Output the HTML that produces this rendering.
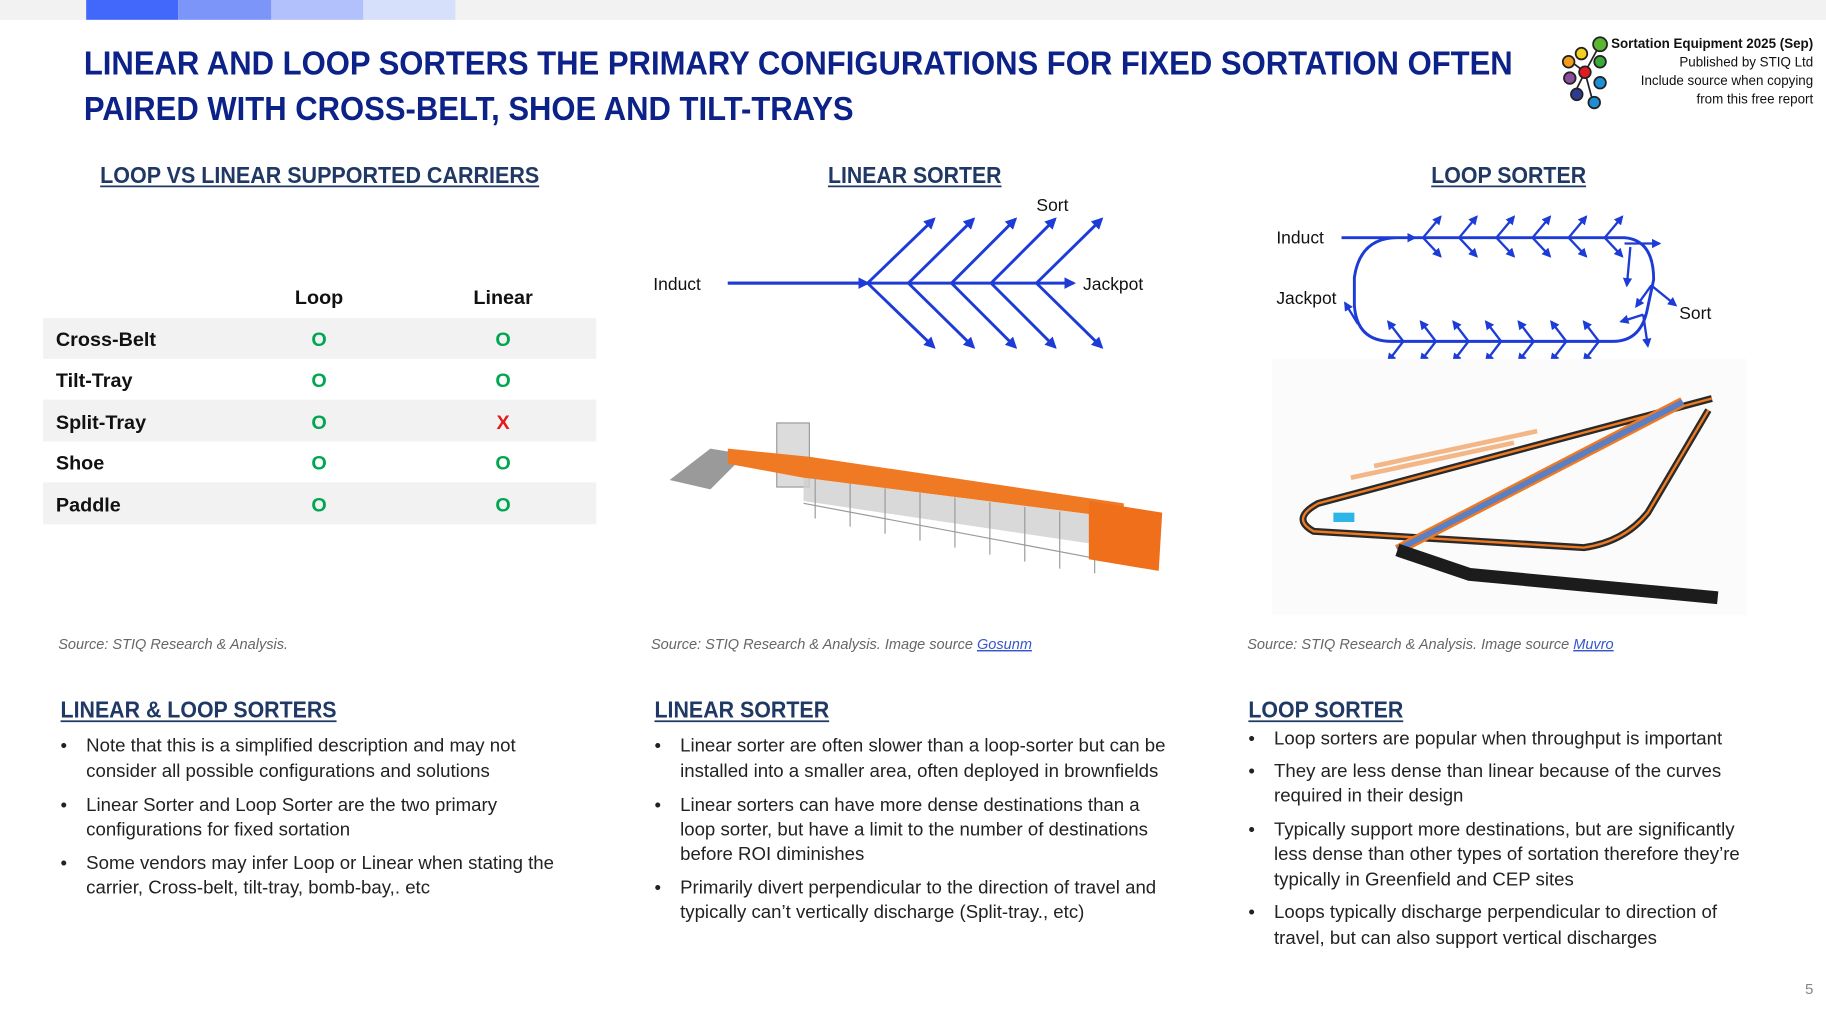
<!DOCTYPE html>
<html><head><meta charset="utf-8"><style>
html,body{margin:0;padding:0;background:#fff;}
svg{display:block;}
text{font-family:"Liberation Sans",sans-serif;}
</style></head><body>
<svg width="1826" height="1023" viewBox="0 0 1568 878" preserveAspectRatio="none" xmlns="http://www.w3.org/2000/svg">
<defs>
<marker id="a" viewBox="0 0 10 10" refX="8" refY="5" markerWidth="4" markerHeight="4" orient="auto"><path d="M0,0 L10,5 L0,10 z" fill="#1d3bd6"/></marker>
</defs>
<rect width="1568" height="878" fill="#fff"/>
<rect x="0" y="0" width="1568" height="17" fill="#f2f2f2"/>
<rect x="74" y="0" width="79" height="17" fill="#4267fb"/>
<rect x="153" y="0" width="80" height="17" fill="#7b95f8"/>
<rect x="233" y="0" width="79" height="17" fill="#b2c1fb"/>
<rect x="312" y="0" width="79" height="17" fill="#d6e0fa"/>

<g fill="#0c2288" font-weight="bold" font-size="29">
<text x="72" y="64" textLength="1227" lengthAdjust="spacingAndGlyphs">LINEAR AND LOOP SORTERS THE PRIMARY CONFIGURATIONS FOR FIXED SORTATION OFTEN</text>
<text x="72" y="103" textLength="661" lengthAdjust="spacingAndGlyphs">PAIRED WITH CROSS-BELT, SHOE AND TILT-TRAYS</text>
</g>

<g stroke="#222" stroke-width="1.5">
<line x1="1374" y1="38" x2="1361" y2="62"/><line x1="1361" y1="62" x2="1368" y2="88"/><line x1="1348" y1="52" x2="1361" y2="62"/><line x1="1361" y1="62" x2="1352" y2="80"/>
<circle cx="1374" cy="38" r="6" fill="#5cb531"/>
<circle cx="1358" cy="46" r="5" fill="#f2d21c"/>
<circle cx="1347" cy="53" r="5" fill="#f39b1b"/>
<circle cx="1374" cy="53" r="5" fill="#3aa83a"/>
<circle cx="1361" cy="62" r="5" fill="#e21b23"/>
<circle cx="1348" cy="67" r="5" fill="#8a4f9c"/>
<circle cx="1374" cy="71" r="5" fill="#1e8fd6"/>
<circle cx="1354" cy="81" r="5" fill="#2e3a8f"/>
<circle cx="1369" cy="88" r="5" fill="#1e8fd6"/>
</g>
<g font-size="11.5" fill="#111" text-anchor="end">
<text x="1557" y="41" font-weight="bold">Sortation Equipment 2025 (Sep)</text>
<text x="1557" y="57">Published by STIQ Ltd</text>
<text x="1557" y="73">Include source when copying</text>
<text x="1557" y="89">from this free report</text>
</g>

<g fill="#1f3864" font-weight="bold" font-size="20">
<text x="86" y="157" textLength="377" lengthAdjust="spacingAndGlyphs">LOOP VS LINEAR SUPPORTED CARRIERS</text>
<text x="711" y="157" textLength="149" lengthAdjust="spacingAndGlyphs">LINEAR SORTER</text>
<text x="1229" y="157" textLength="133" lengthAdjust="spacingAndGlyphs">LOOP SORTER</text>
<text x="52" y="616" textLength="237" lengthAdjust="spacingAndGlyphs">LINEAR &amp; LOOP SORTERS</text>
<text x="562" y="616" textLength="150" lengthAdjust="spacingAndGlyphs">LINEAR SORTER</text>
<text x="1072" y="616" textLength="133" lengthAdjust="spacingAndGlyphs">LOOP SORTER</text>
</g>
<g stroke="#1f3864" stroke-width="1.5">
<line x1="86" y1="160" x2="463" y2="160"/><line x1="711" y1="160" x2="860" y2="160"/><line x1="1229" y1="160" x2="1362" y2="160"/>
<line x1="52" y1="619" x2="289" y2="619"/><line x1="562" y1="619" x2="712" y2="619"/><line x1="1072" y1="619" x2="1205" y2="619"/>
</g>

<rect x="37" y="273" width="475" height="35" fill="#f2f2f2"/>
<rect x="37" y="343" width="475" height="36" fill="#f2f2f2"/>
<rect x="37" y="414" width="475" height="36" fill="#f2f2f2"/>
<g font-size="17" font-weight="bold" fill="#111">
<text x="274" y="261" text-anchor="middle">Loop</text>
<text x="432" y="261" text-anchor="middle">Linear</text>
<text x="48" y="297">Cross-Belt</text>
<text x="48" y="332">Tilt-Tray</text>
<text x="48" y="368">Split-Tray</text>
<text x="48" y="403">Shoe</text>
<text x="48" y="439">Paddle</text>
</g>
<g font-size="17" font-weight="bold" fill="#00a650" text-anchor="middle">
<text x="274" y="297">O</text><text x="432" y="297">O</text>
<text x="274" y="332">O</text><text x="432" y="332">O</text>
<text x="274" y="368">O</text><text x="432" y="368" fill="#e31b1b">X</text>
<text x="274" y="403">O</text><text x="432" y="403">O</text>
<text x="274" y="439">O</text><text x="432" y="439">O</text>
</g>

<g font-size="15" fill="#111">
<text x="561" y="249">Induct</text><text x="930" y="249">Jackpot</text><text x="890" y="181">Sort</text>
<text x="1096" y="209">Induct</text><text x="1096" y="261">Jackpot</text><text x="1442" y="274">Sort</text>
</g>
<g stroke="#1d3bd6" stroke-width="2.5" fill="none" marker-end="url(#a)">
<line x1="625" y1="243" x2="922" y2="243"/>
<line x1="625" y1="243" x2="745" y2="243"/>
<line x1="745" y1="243" x2="802" y2="188"/><line x1="745" y1="243" x2="802" y2="298"/>
<line x1="780" y1="243" x2="836" y2="188"/><line x1="780" y1="243" x2="836" y2="298"/>
<line x1="817" y1="243" x2="872" y2="188"/><line x1="817" y1="243" x2="872" y2="298"/>
<line x1="851" y1="243" x2="906" y2="188"/><line x1="851" y1="243" x2="906" y2="298"/>
<line x1="890" y1="243" x2="946" y2="188"/><line x1="890" y1="243" x2="946" y2="298"/>
</g>

<g stroke="#1d3bd6" stroke-width="2.5" fill="none">
<path d="M1152,204 L1395,204 Q1420,206 1420,240 L1414,268 Q1408,293 1385,293 L1195,293 Q1165,293 1163,262 L1163,238 Q1168,204 1200,204"/>
</g>
<g stroke="#1d3bd6" stroke-width="2" fill="none" marker-end="url(#a)">
<line x1="1152" y1="204" x2="1215" y2="204"/>
<line x1="1222" y1="204" x2="1237" y2="186"/><line x1="1222" y1="204" x2="1237" y2="220"/>
<line x1="1253" y1="204" x2="1268" y2="186"/><line x1="1253" y1="204" x2="1268" y2="220"/>
<line x1="1285" y1="204" x2="1300" y2="186"/><line x1="1285" y1="204" x2="1300" y2="220"/>
<line x1="1316" y1="204" x2="1331" y2="186"/><line x1="1316" y1="204" x2="1331" y2="220"/>
<line x1="1347" y1="204" x2="1362" y2="186"/><line x1="1347" y1="204" x2="1362" y2="220"/>
<line x1="1378" y1="204" x2="1393" y2="186"/><line x1="1378" y1="204" x2="1393" y2="220"/>
<line x1="1395" y1="209" x2="1425" y2="209"/>
<line x1="1400" y1="212" x2="1397" y2="245"/>
<line x1="1418" y1="245" x2="1439" y2="262"/><line x1="1418" y1="245" x2="1405" y2="263"/>
<line x1="1411" y1="270" x2="1392" y2="276"/><line x1="1411" y1="270" x2="1415" y2="297"/>
<line x1="1166" y1="278" x2="1155" y2="260"/>
<line x1="1205" y1="293" x2="1192" y2="276"/><line x1="1205" y1="293" x2="1192" y2="310"/>
<line x1="1233" y1="293" x2="1220" y2="276"/><line x1="1233" y1="293" x2="1220" y2="310"/>
<line x1="1261" y1="293" x2="1248" y2="276"/><line x1="1261" y1="293" x2="1248" y2="310"/>
<line x1="1289" y1="293" x2="1276" y2="276"/><line x1="1289" y1="293" x2="1276" y2="310"/>
<line x1="1317" y1="293" x2="1304" y2="276"/><line x1="1317" y1="293" x2="1304" y2="310"/>
<line x1="1345" y1="293" x2="1332" y2="276"/><line x1="1345" y1="293" x2="1332" y2="310"/>
<line x1="1373" y1="293" x2="1360" y2="276"/><line x1="1373" y1="293" x2="1360" y2="310"/>
</g>

<!-- linear sorter picture -->
<g>
<polygon points="575,412 610,385 640,390 610,420" fill="#9a9a9a"/>
<rect x="667" y="363" width="28" height="55" fill="#dcdcdc" stroke="#999"/>
<polygon points="625,385 695,392 965,432 965,445 690,410 625,398" fill="#f07a24"/>
<polygon points="690,410 965,445 960,470 690,430" fill="#cfcfcf" opacity="0.8"/>
<g stroke="#999" stroke-width="1">
<line x1="700" y1="410" x2="700" y2="445"/><line x1="730" y1="415" x2="730" y2="452"/><line x1="760" y1="419" x2="760" y2="458"/><line x1="790" y1="423" x2="790" y2="464"/><line x1="820" y1="427" x2="820" y2="470"/><line x1="850" y1="431" x2="850" y2="476"/><line x1="880" y1="435" x2="880" y2="482"/><line x1="910" y1="439" x2="910" y2="488"/><line x1="940" y1="443" x2="940" y2="492"/>
<line x1="690" y1="432" x2="945" y2="480"/>
</g>
<polygon points="935,430 998,440 995,490 935,480" fill="#ef6f1b"/>
</g>

<!-- loop sorter picture -->
<rect x="1092" y="308" width="408" height="220" fill="#fbfbfb"/>
<g fill="none">
<path d="M1470,342 L1132,432 Q1108,445 1128,456 L1360,470 Q1395,465 1415,440 L1467,352" stroke="#2a2a2a" stroke-width="6"/>
<path d="M1470,342 L1132,432 Q1108,445 1128,456 L1360,470 Q1395,465 1415,440 L1467,352" stroke="#ef7a22" stroke-width="2"/>
<path d="M1445,345 L1200,472" stroke="#ef7a22" stroke-width="9"/>
<path d="M1445,345 L1200,472" stroke="#5b7fc4" stroke-width="5"/>
<path d="M1200,472 L1262,493 L1475,513" stroke="#1c1c1c" stroke-width="11"/>
<path d="M1160,410 L1300,380 M1180,400 L1320,370" stroke="#ef8a3a" stroke-width="4" opacity="0.6"/>
</g>
<rect x="1145" y="440" width="18" height="8" fill="#2eb5e8"/>

<g font-size="12.5" font-style="italic" fill="#666">
<text x="50" y="557">Source: STIQ Research &amp; Analysis.</text>
<text x="559" y="557">Source: STIQ Research &amp; Analysis. Image source <tspan fill="#3557c9" text-decoration="underline">Gosunm</tspan></text>
<text x="1071" y="557">Source: STIQ Research &amp; Analysis. Image source <tspan fill="#3557c9" text-decoration="underline">Muvro</tspan></text>
</g>

<g font-size="16" fill="#222">
<text x="52" y="645">•</text><text x="74" y="645">Note that this is a simplified description and may not</text><text x="74" y="667">consider all possible configurations and solutions</text>
<text x="52" y="696">•</text><text x="74" y="696">Linear Sorter and Loop Sorter are the two primary</text><text x="74" y="717">configurations for fixed sortation</text>
<text x="52" y="746">•</text><text x="74" y="746">Some vendors may infer Loop or Linear when stating the</text><text x="74" y="767">carrier, Cross-belt, tilt-tray, bomb-bay,. etc</text>

<text x="562" y="645">•</text><text x="584" y="645">Linear sorter are often slower than a loop-sorter but can be</text><text x="584" y="667">installed into a smaller area, often deployed in brownfields</text>
<text x="562" y="696">•</text><text x="584" y="696">Linear sorters can have more dense destinations than a</text><text x="584" y="717">loop sorter, but have a limit to the number of destinations</text><text x="584" y="738">before ROI diminishes</text>
<text x="562" y="767">•</text><text x="584" y="767">Primarily divert perpendicular to the direction of travel and</text><text x="584" y="788">typically can’t vertically discharge (Split-tray., etc)</text>

<text x="1072" y="639">•</text><text x="1094" y="639">Loop sorters are popular when throughput is important</text>
<text x="1072" y="667">•</text><text x="1094" y="667">They are less dense than linear because of the curves</text><text x="1094" y="688">required in their design</text>
<text x="1072" y="717">•</text><text x="1094" y="717">Typically support more destinations, but are significantly</text><text x="1094" y="738">less dense than other types of sortation therefore they’re</text><text x="1094" y="760">typically in Greenfield and CEP sites</text>
<text x="1072" y="788">•</text><text x="1094" y="788">Loops typically discharge perpendicular to direction of</text><text x="1094" y="810">travel, but can also support vertical discharges</text>
</g>
<text x="1550" y="853" font-size="13" fill="#888">5</text>
</svg>
</body></html>
